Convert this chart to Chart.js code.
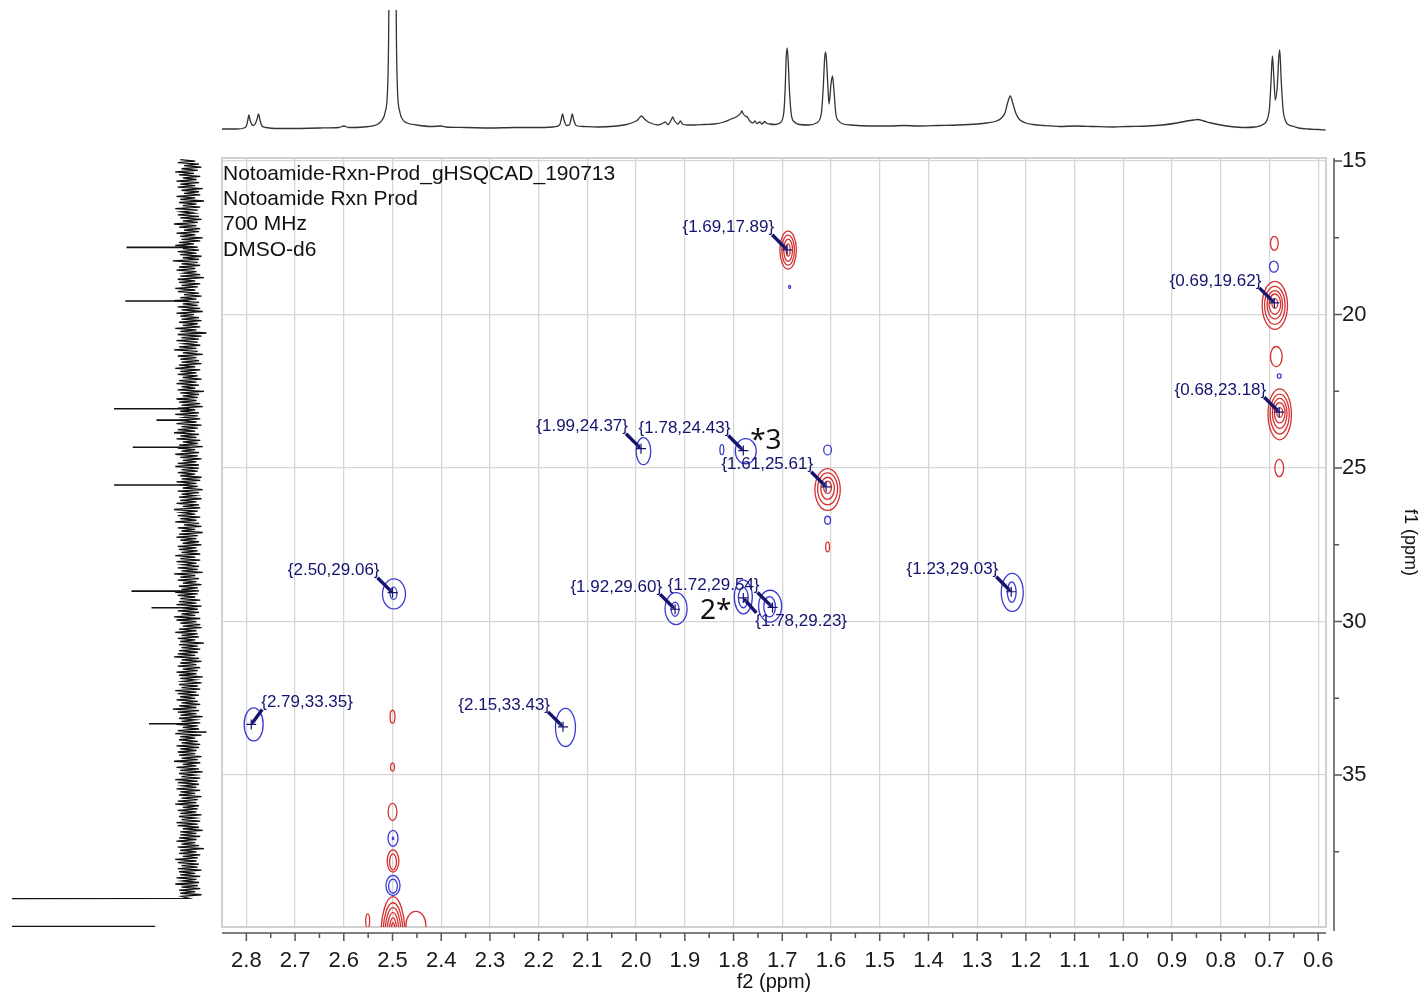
<!DOCTYPE html>
<html>
<head>
<meta charset="utf-8">
<title>Notoamide Rxn Prod gHSQCAD</title>
<script src="https://cdn.jsdelivr.net/npm/chart.js@4.4.0/dist/chart.umd.min.js"></script>
<style>
  html, body { margin: 0; padding: 0; background: #fff; }
  #wrap { position: relative; width: 1425px; height: 994px; }
  #wrap canvas { position: absolute; left: 0; top: 0; }
</style>
</head>
<body>
<div id="wrap">
  <canvas id="carbon" width="1425" height="994"></canvas>
  <canvas id="proton" width="1425" height="994"></canvas>
  <canvas id="hsqc" width="1425" height="994"></canvas>
</div>
<script>
// axis ranges (ppm)
const f2Range = [0.584, 2.85];   // 1H
const f1Range = [14.9, 39.95];   // 13C

const infoLines = ['Notoamide-Rxn-Prod_gHSQCAD_190713', 'Notoamide Rxn Prod', '700 MHz', 'DMSO-d6'];

// picked cross peaks {1H, 13C}
const peakH = [1.69, 0.69, 0.68, 1.99, 1.78, 1.61, 2.50, 2.79, 2.15, 1.92, 1.72, 1.78, 1.23];
const peakC = [17.89, 19.62, 23.18, 24.37, 24.43, 25.61, 29.06, 33.35, 33.43, 29.60, 29.54, 29.23, 29.03];
// where each label sits relative to its peak
const labelSide = ['ul', 'ul', 'ul', 'ul', 'ul', 'ul', 'ul', 'ur', 'ul', 'ul', 'ul', 'lr', 'ul'];

// hand notes
const noteText = ['*3', '2*'];
const noteH = [1.766, 1.869];
const noteC = [24.12, 29.66];

// contour rings: [1H centre, 13C centre, 1H half width, 13C half height, sign]
const rings = [
  [1.688, 17.90, 0.017, 0.62, 1], [1.688, 17.90, 0.013, 0.49, 1], [1.688, 17.90, 0.009, 0.36, 1], [1.688, 17.90, 0.004, 0.20, 1],
  [1.685, 19.10, 0.002, 0.05, -1],
  [0.689, 19.70, 0.026, 0.78, 1], [0.689, 19.70, 0.021, 0.62, 1], [0.689, 19.68, 0.016, 0.46, 1], [0.689, 19.66, 0.012, 0.33, 1], [0.689, 19.64, 0.006, 0.16, 1],
  [0.690, 17.68, 0.008, 0.23, 1], [0.691, 18.44, 0.009, 0.18, -1], [0.686, 21.37, 0.012, 0.33, 1], [0.680, 22.00, 0.004, 0.07, -1],
  [0.679, 23.25, 0.024, 0.83, 1], [0.679, 23.24, 0.0195, 0.65, 1], [0.679, 23.22, 0.015, 0.49, 1], [0.679, 23.20, 0.011, 0.33, 1], [0.679, 23.19, 0.006, 0.16, 1],
  [0.680, 25.00, 0.009, 0.28, 1],
  [1.985, 24.45, 0.015, 0.44, -1],
  [1.775, 24.45, 0.0215, 0.41, -1], [1.824, 24.40, 0.004, 0.16, -1],
  [1.607, 25.70, 0.026, 0.68, 1], [1.607, 25.68, 0.0205, 0.52, 1], [1.607, 25.66, 0.014, 0.36, 1], [1.607, 25.63, 0.008, 0.20, 1],
  [1.607, 24.41, 0.008, 0.16, -1], [1.607, 26.70, 0.006, 0.13, -1], [1.607, 27.57, 0.004, 0.16, 1],
  [2.497, 29.10, 0.0236, 0.49, -1], [2.498, 29.08, 0.007, 0.20, -1],
  [2.785, 33.35, 0.0195, 0.54, -1],
  [2.145, 33.45, 0.0205, 0.62, -1],
  [1.918, 29.58, 0.0226, 0.52, -1], [1.920, 29.60, 0.008, 0.23, -1],
  [1.780, 29.20, 0.0185, 0.55, -1], [1.780, 29.22, 0.010, 0.33, -1],
  [1.725, 29.50, 0.0236, 0.52, -1], [1.726, 29.52, 0.012, 0.33, -1],
  [1.228, 29.05, 0.0226, 0.62, -1], [1.229, 29.04, 0.009, 0.33, -1],
  [2.500, 33.10, 0.005, 0.21, 1], [2.500, 34.74, 0.004, 0.13, 1], [2.500, 36.20, 0.009, 0.28, 1],
  [2.499, 37.06, 0.0103, 0.26, -1], [2.499, 37.06, 0.0015, 0.04, -1],
  [2.499, 37.80, 0.012, 0.36, 1], [2.499, 37.83, 0.007, 0.26, 1],
  [2.499, 38.60, 0.0144, 0.33, -1], [2.499, 38.62, 0.009, 0.23, -1],
  [2.499, 40.20, 0.0246, 1.24, 1], [2.499, 40.20, 0.0205, 1.04, 1], [2.499, 40.20, 0.0164, 0.88, 1],
  [2.499, 40.20, 0.0123, 0.72, 1], [2.499, 40.20, 0.008, 0.55, 1], [2.499, 40.20, 0.004, 0.39, 1],
  [2.452, 39.90, 0.0205, 0.46, 1], [2.551, 39.75, 0.004, 0.23, 1]
];

// 1H projection: [ppm, height]
const protonTrace = [
  [2.855, -1], [2.82, -1], [2.805, 0], [2.800, 2], [2.797, 8], [2.795, 13], [2.792, 7], [2.786, 2.5],
  [2.782, 4], [2.778, 9], [2.775, 14], [2.772, 8], [2.768, 2], [2.760, 0.5], [2.74, -0.5], [2.70, -0.5],
  [2.65, 0], [2.61, 0.5], [2.600, 2], [2.59, 0.5], [2.56, 1], [2.53, 4], [2.52, 9], [2.515, 16],
  [2.51, 40], [2.508, 90], [2.505, 300], [2.500, 600], [2.495, 300], [2.492, 90], [2.49, 40], [2.485, 16],
  [2.48, 9], [2.47, 5], [2.45, 3], [2.42, 1.5], [2.40, 2], [2.39, 1], [2.35, 0.5], [2.30, 0], [2.25, 0.5], [2.20, 0.5],
  [2.17, 1], [2.157, 3], [2.154, 8], [2.151, 14], [2.148, 8], [2.143, 2.5], [2.137, 3], [2.134, 8],
  [2.131, 14], [2.128, 8], [2.123, 2.5], [2.11, 1.5], [2.08, 1], [2.04, 2], [2.02, 3.5], [2.00, 7],
  [1.995, 9], [1.989, 12], [1.983, 9], [1.975, 6], [1.965, 4], [1.955, 3], [1.944, 5], [1.940, 6],
  [1.935, 3.5], [1.928, 8], [1.925, 11], [1.921, 7], [1.914, 4], [1.909, 7], [1.905, 4], [1.895, 3],
  [1.88, 3], [1.86, 3.5], [1.84, 4], [1.82, 6], [1.805, 9], [1.795, 11], [1.785, 15], [1.783, 17],
  [1.780, 14], [1.776, 12], [1.772, 11], [1.768, 8], [1.765, 6], [1.760, 5], [1.756, 7], [1.752, 4.5],
  [1.746, 6], [1.742, 4], [1.736, 6.5], [1.733, 5], [1.726, 4], [1.715, 3.5], [1.705, 5], [1.697, 15],
  [1.694, 40], [1.692, 70], [1.690, 80], [1.688, 68], [1.685, 35], [1.681, 12], [1.675, 6], [1.665, 3.5],
  [1.645, 3], [1.63, 5], [1.620, 14], [1.616, 40], [1.613, 70], [1.611, 76], [1.609, 66], [1.606, 38],
  [1.604, 24], [1.600, 44], [1.597, 52], [1.594, 38], [1.590, 14], [1.584, 7], [1.575, 4], [1.56, 3],
  [1.52, 2], [1.48, 2], [1.45, 2.5], [1.42, 2], [1.38, 2.5], [1.34, 3], [1.30, 4], [1.28, 5],
  [1.26, 7], [1.25, 10], [1.243, 15], [1.237, 26], [1.232, 32], [1.227, 25], [1.220, 14], [1.212, 8],
  [1.20, 5], [1.185, 3.5], [1.165, 2.5], [1.13, 1.5], [1.10, 2], [1.06, 1.5], [1.02, 1], [0.99, 1.5],
  [0.95, 2], [0.92, 3], [0.89, 5], [0.87, 7], [0.855, 8], [0.847, 8.5], [0.835, 7], [0.82, 5],
  [0.80, 3], [0.78, 1.5], [0.75, 0.5], [0.73, 1], [0.715, 3], [0.705, 8], [0.700, 20], [0.697, 45],
  [0.694, 72], [0.691, 50], [0.688, 28], [0.684, 42], [0.681, 70], [0.679, 78], [0.676, 48], [0.672, 18],
  [0.667, 7], [0.66, 3], [0.65, 1.5], [0.64, 0], [0.62, -1], [0.60, -1.5], [0.585, -2]
];

// 13C projection: noise samples from 14.95 ppm every 0.05 ppm, peaks, and the clipped DMSO signal
const carbonNoiseStart = 14.95;
const carbonNoiseStep = 0.05;
const carbonNoise = [
  7, -5, 9, -8, 4, -10, 6, -7, 11, -4, 8, -9, 5, -6, 10, -8, 7, -5, 9, -11,
  6, -8, 4, -9, 10, -5, 7, -12, 8, -6, 5, -9, 11, -7, 6, -4, 9, -8, 7, -10,
  5, -7, 12, -6, 8, -9, 4, -8, 10, -5, 7, -11, 6, -9, 8, -4, 11, -7, 5, -8,
  9, -6, 7, -10, 5, -8, 13, -7, 6, -9, 8, -5, 10, -6, 4, -9, 7, -12, 9, -5,
  8, -9, 6, -7, 11, -5, 9, -8, 4, -10, 7, -6, 12, -8, 5, -7, 9, -9, 6, -11,
  10, -4, 7, -8, 6, -10, 8, -7, 5, -9, 11, -6, 7, -14, 9, -10, 6, -8, 10, -7,
  4, -9, 8, -6, 12, -7, 5, -11, 9, -6, 7, -8, 6, -10, 8, -5, 11, -9, 7, -6,
  9, -7, 5, -10, 8, -6, 10, -8, 6, -5, 9, -12, 7, -8, 5, -7, 10, -6, 8, -9,
  6, -11, 9, -5, 7, -8, 11, -7, 4, -9, 8, -6, 10, -10, 6, -7, 9, -5, 12, -8,
  7, -6, 10, -9, 5, -7, 8, -11, 9, -5, 6, -8, 11, -7, 7, -10, 5, -6, 9, -8,
  11, -8, 6, -7, 9, -5, 7, -10, 6, -9, 10, -6, 8, -7, 5, -11, 9, -8, 6, -5,
  8, -10, 7, -6, 10, -8, 5, -9, 12, -7, 6, -5, 9, -9, 7, -6, 11, -8, 4, -10,
  9, -5, 6, -11, 8, -7, 10, -6, 7, -8, 5, -10, 9, -6, 8, -7, 6, -9, 11, -5,
  7, -9, 10, -6, 5, -8, 9, -7, 6, -11, 12, -5, 7, -8, 9, -6, 5, -10, 8, -7,
  6, -8, 11, -7, 9, -5, 7, -9, 8, -6, 10, -10, 5, -7, 9, -8, 6, -5, 12, -9,
  10, -6, 7, -9, 5, -10, 8, -6, 11, -7, 6, -8, 9, -5, 7, -12, 8, -7, 6, -9,
  8, -7, 9, -5, 12, -8, 6, -10, 7, -6, 9, -9, 5, -7, 10, -6, 8, -11, 7, -5,
  5, -10, 8, -7, 6, -9, 11, -6, 9, -8, 7, -5, 10, -7, 6, -9, 8, -6, 13, -8,
  9, -6, 7, -11, 8, -5, 6, -9, 10, -7, 5, -8, 9, -6, 11, -10, 7, -5, 8, -7,
  6, -9, 10, -8, 7, -6, 9, -5, 8, -10, 6, -7, 12, -9, 5, -6, 10, -8, 7, -11,
  8, -5, 6, -9, 11, -7, 9, -8, 5, -6, 10, -9, 7, -5, 8, -10, 6, -7, 9, -6,
  11, -8, 5, -7, 9, -6, 7, -10, 8, -5, 6, -9, 10, -7, 9, -8, 5, -11, 7, -6,
  7, -9, 8, -6, 10, -5, 6, -8, 9, -12, 7, -6, 8, -9, 5, -7, 11, -6, 9, -8,
  6, -7, 9, -10, 8, -5, 7, -9, 10, -6, 5, -8, 11, -7, 6, -9, 8, -5, 7, -10,
  6
];
const carbonShift = [17.81, 19.56, 23.07, 23.44, 24.32, 25.55, 29.01, 29.55, 33.33, 33.60];
const carbonInt = [50, 51, 60, 26, 45, 60, 46, 30, 32, -14];
const carbonSolvent = [[39.02, 0], [39.12, 3000], [39.86, 3000], [39.93, 27]];

const sans = '"Liberation Sans", Arial, Helvetica, sans-serif';
const navy = '#14146f';
const posColor = '#d63030';
const negColor = '#3b3bd2';

// ---------- 1H trace on top ----------
new Chart(document.getElementById('proton'), {
  type: 'scatter',
  data: {
    datasets: [{
      data: protonTrace.map(p => ({ x: p[0], y: p[1] })),
      showLine: true,
      borderColor: '#333',
      borderWidth: 1.3,
      pointRadius: 0,
      cubicInterpolationMode: 'monotone'
    }]
  },
  options: {
    responsive: false,
    animation: false,
    events: [],
    layout: { padding: { left: 222, right: 99, top: 10, bottom: 862 } },
    plugins: { legend: { display: false }, tooltip: { enabled: false } },
    scales: {
      x: { type: 'linear', display: false, min: f2Range[0], max: f2Range[1], reverse: true },
      y: { type: 'linear', display: false, min: -4, max: 118 }
    }
  }
});

// ---------- 13C trace on the left ----------
const carbonSets = [{
  data: carbonNoise.map((v, i) => ({ x: v, y: carbonNoiseStart + i * carbonNoiseStep }))
    .concat(carbonSolvent.map(p => ({ x: p[1], y: p[0] }))),
  borderWidth: 1.3
}].concat(carbonShift.map((c, i) => ({
  data: [{ x: 0, y: c }, { x: carbonInt[i], y: c }],
  borderWidth: 1.6
})));

new Chart(document.getElementById('carbon'), {
  type: 'scatter',
  data: {
    datasets: carbonSets.map(d => Object.assign(d, {
      showLine: true, borderColor: '#111', pointRadius: 0
    }))
  },
  options: {
    responsive: false,
    animation: false,
    events: [],
    layout: { padding: { left: 12, right: 1203, top: 158, bottom: 67 } },
    plugins: { legend: { display: false }, tooltip: { enabled: false } },
    scales: {
      x: { type: 'linear', display: false, min: -26.4, max: 141.6, reverse: true },
      y: { type: 'linear', display: false, min: f1Range[0], max: f1Range[1], reverse: true }
    }
  }
});

// ---------- HSQC map ----------
const framePlugin = {
  id: 'frame',
  beforeDatasetsDraw(chart) {
    const { ctx, chartArea: a, scales: { x, y } } = chart;
    ctx.save();
    ctx.strokeStyle = '#d0d0d0';
    ctx.lineWidth = 2;
    ctx.strokeRect(a.left, a.top, a.width, a.height);

    // contour rings
    ctx.beginPath();
    ctx.rect(a.left, a.top, a.width, a.height);
    ctx.clip();
    ctx.lineWidth = 1.3;
    chart.data.datasets[0].data.forEach(r => {
      const cx = x.getPixelForValue(r.x), cy = y.getPixelForValue(r.y);
      const rx = Math.abs(x.getPixelForValue(r.x + r.dx) - cx);
      const ry = Math.abs(y.getPixelForValue(r.y + r.dy) - cy);
      ctx.strokeStyle = r.sign > 0 ? posColor : negColor;
      ctx.beginPath();
      ctx.ellipse(cx, cy, Math.max(rx, 0.8), Math.max(ry, 0.8), 0, 0, Math.PI * 2);
      ctx.stroke();
    });
    ctx.restore();
  },
  afterDatasetsDraw(chart) {
    const { ctx, scales: { x, y } } = chart;
    ctx.save();
    ctx.font = '17px ' + sans;
    ctx.fillStyle = navy;
    ctx.strokeStyle = navy;
    ctx.textBaseline = 'middle';
    peakH.forEach((h, i) => {
      const px = x.getPixelForValue(h), py = y.getPixelForValue(peakC[i]);
      const text = '{' + h.toFixed(2) + ',' + peakC[i].toFixed(2) + '}';
      let tx, ty, sx, sy;
      if (labelSide[i] === 'ul') {
        tx = px - 13; ty = py - 22; sx = px - 15; sy = py - 15;
        ctx.textAlign = 'right';
      } else if (labelSide[i] === 'ur') {
        tx = px + 10; ty = py - 22; sx = px + 11; sy = py - 15;
        ctx.textAlign = 'left';
      } else {
        tx = px + 12; ty = py + 23; sx = px + 13; sy = py + 15;
        ctx.textAlign = 'left';
      }
      ctx.fillText(text, tx, ty);
      // arrow to peak
      const ang = Math.atan2(py - sy, px - sx);
      const hx = px - Math.cos(ang) * 4, hy = py - Math.sin(ang) * 4;
      ctx.lineWidth = 3.4;
      ctx.beginPath();
      ctx.moveTo(sx, sy);
      ctx.lineTo(hx, hy);
      ctx.stroke();
      ctx.beginPath();
      ctx.moveTo(px, py);
      ctx.lineTo(hx + Math.cos(ang + Math.PI / 2) * 2.2, hy + Math.sin(ang + Math.PI / 2) * 2.2);
      ctx.lineTo(hx - Math.cos(ang + Math.PI / 2) * 2.2, hy - Math.sin(ang + Math.PI / 2) * 2.2);
      ctx.closePath();
      ctx.fill();
    });
    ctx.restore();
  },
  afterDraw(chart) {
    const { ctx, chartArea: a, scales: { x, y } } = chart;
    const xLine = a.bottom + 6, yLine = a.right + 8;
    ctx.save();
    ctx.strokeStyle = '#555';
    ctx.lineWidth = 1.5;
    ctx.beginPath();
    ctx.moveTo(a.left, xLine); ctx.lineTo(a.right, xLine);
    ctx.moveTo(yLine, a.top); ctx.lineTo(yLine, a.bottom + 4);
    const xv = x.ticks.map(t => t.value);
    xv.forEach((v, i) => {
      const p = x.getPixelForValue(v);
      ctx.moveTo(p, xLine); ctx.lineTo(p, xLine + 8);
      if (i + 1 < xv.length) {
        const m = x.getPixelForValue((v + xv[i + 1]) / 2);
        ctx.moveTo(m, xLine); ctx.lineTo(m, xLine + 5);
      }
    });
    y.ticks.forEach(t => {
      const p = y.getPixelForValue(t.value);
      ctx.moveTo(yLine, p); ctx.lineTo(yLine + 8, p);
      const m = y.getPixelForValue(t.value + 2.5);
      if (m < a.bottom) { ctx.moveTo(yLine, m); ctx.lineTo(yLine + 5, m); }
    });
    ctx.stroke();

    // axis titles
    ctx.fillStyle = '#111';
    ctx.textAlign = 'center';
    ctx.textBaseline = 'middle';
    ctx.font = '20px ' + sans;
    ctx.fillText('f2 (ppm)', (a.left + a.right) / 2, a.bottom + 55);
    ctx.save();
    ctx.translate(1410, (a.top + a.bottom) / 2);
    ctx.rotate(Math.PI / 2);
    ctx.font = '18px ' + sans;
    ctx.fillText('f1 (ppm)', 0, 0);
    ctx.restore();

    // experiment info
    ctx.textAlign = 'left';
    ctx.font = '21px ' + sans;
    infoLines.forEach((s, i) => ctx.fillText(s, a.left + 1, a.top + 16 + i * 25.3));

    // hand notes
    ctx.font = '28px "Noto Sans", "DejaVu Sans", sans-serif';
    noteText.forEach((s, i) => ctx.fillText(s, x.getPixelForValue(noteH[i]), y.getPixelForValue(noteC[i])));
    ctx.restore();
  }
};

new Chart(document.getElementById('hsqc'), {
  type: 'scatter',
  data: {
    datasets: [{
      data: rings.map(r => ({ x: r[0], y: r[1], dx: r[2], dy: r[3], sign: r[4] })),
      pointRadius: 0
    }, {
      data: peakH.map((h, i) => ({ x: h, y: peakC[i] })),
      pointStyle: 'cross',
      pointRadius: 5,
      borderColor: navy,
      borderWidth: 1.2
    }]
  },
  options: {
    responsive: false,
    animation: false,
    events: [],
    layout: { padding: { left: 222, top: 158, right: 0, bottom: 0 } },
    plugins: { legend: { display: false }, tooltip: { enabled: false } },
    scales: {
      x: {
        type: 'linear',
        min: f2Range[0], max: f2Range[1], reverse: true,
        afterFit: s => { s.height = 67; },
        border: { display: false },
        grid: { color: '#d6d6d6', lineWidth: 1.3, drawTicks: false },
        ticks: {
          stepSize: 0.1, includeBounds: false, autoSkip: false, maxRotation: 0,
          padding: 21, color: '#1a1a1a', font: { size: 22, family: sans },
          callback: v => v.toFixed(1)
        }
      },
      y: {
        type: 'linear', position: 'right',
        min: f1Range[0], max: f1Range[1], reverse: true,
        afterFit: s => { s.width = 99; },
        border: { display: false },
        grid: { color: '#d6d6d6', lineWidth: 1.3, drawTicks: false },
        ticks: {
          stepSize: 5, includeBounds: false, padding: 16,
          color: '#1a1a1a', font: { size: 22, family: sans }
        }
      }
    }
  },
  plugins: [framePlugin]
});
</script>
</body>
</html>
